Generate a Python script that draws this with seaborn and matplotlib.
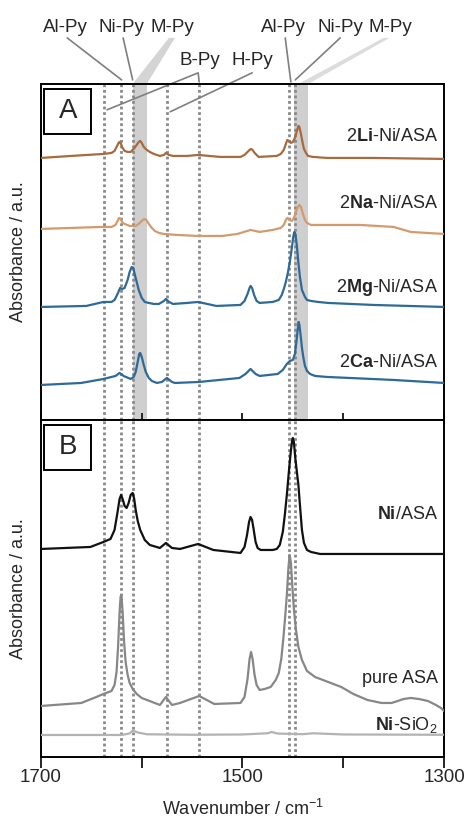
import pandas as pd
import matplotlib
matplotlib.use('Agg')
import matplotlib.pyplot as plt
import matplotlib.transforms as mtransforms
from matplotlib.patches import Rectangle
import seaborn as sns

sns.set_style('white')
plt.rcParams['font.family'] = ['Liberation Sans', 'DejaVu Sans']
plt.rcParams['mathtext.fontset'] = 'custom'
plt.rcParams['mathtext.rm'] = 'Liberation Sans'
plt.rcParams['mathtext.bf'] = 'Liberation Sans:bold'
plt.rcParams['mathtext.it'] = 'Liberation Sans:italic'
plt.rcParams['mathtext.default'] = 'regular'

# spectra (stacked, offsets included)
li_wn = [1700, 1670, 1638, 1630, 1627, 1625, 1623, 1622, 1621, 1619, 1617, 1614, 1611, 1608, 1605, 1603,
         1601.5, 1600, 1598, 1595, 1592, 1588, 1582, 1578, 1576, 1573, 1569, 1555, 1544, 1522, 1502, 1498,
         1495, 1493, 1491.5, 1490, 1488, 1486, 1484, 1466, 1462, 1459, 1457, 1455.5, 1454, 1452, 1450, 1448,
         1446, 1444.5, 1443.5, 1442, 1440.5, 1439, 1437, 1435, 1430, 1416, 1370, 1300]
li_abs = [2.62, 2.64, 2.66, 2.67, 2.69, 2.73, 2.77, 2.78, 2.77, 2.72, 2.69, 2.68, 2.68, 2.71, 2.75, 2.78,
          2.79, 2.77, 2.73, 2.70, 2.68, 2.66, 2.64, 2.65, 2.67, 2.65, 2.64, 2.64, 2.65, 2.63, 2.63, 2.65,
          2.68, 2.70, 2.71, 2.70, 2.67, 2.65, 2.63, 2.64, 2.66, 2.70, 2.76, 2.80, 2.79, 2.77, 2.78, 2.82,
          2.89, 2.94, 2.93, 2.86, 2.78, 2.71, 2.67, 2.64, 2.63, 2.62, 2.62, 2.61]

na_wn = [1700, 1640, 1630, 1626, 1624, 1622.5, 1621, 1619, 1617, 1612, 1606, 1603, 1600, 1597.5, 1595.5, 1593,
         1590, 1587, 1583, 1578, 1565, 1545, 1520, 1505, 1492, 1483, 1470, 1462, 1459, 1457, 1455.5, 1453.5,
         1451, 1449, 1447, 1445, 1443.5, 1442, 1440, 1438, 1436, 1432, 1420, 1383, 1350, 1333, 1317, 1300]
na_abs = [1.91, 1.93, 1.93, 1.95, 1.99, 2.02, 2.01, 1.97, 1.96, 1.94, 1.94, 1.96, 1.99, 2.01, 2.00, 1.96,
          1.92, 1.89, 1.87, 1.86, 1.85, 1.84, 1.84, 1.86, 1.90, 1.88, 1.90, 1.92, 1.95, 2.00, 2.02, 2.00,
          1.99, 2.02, 2.08, 2.13, 2.15, 2.13, 2.06, 2.00, 1.97, 1.95, 1.95, 1.95, 1.93, 1.88, 1.87, 1.86]

mg_wn = [1700, 1655, 1638, 1630, 1627, 1624, 1621.5, 1619.5, 1617, 1614, 1612, 1610, 1608.5, 1606.5, 1605,
         1603, 1600, 1597, 1593, 1588, 1583, 1578, 1576, 1573, 1569, 1555, 1544, 1526, 1502, 1498, 1495,
         1493, 1492, 1490.5, 1488.5, 1486, 1483, 1470, 1464, 1461, 1459, 1457, 1455, 1453, 1451, 1449.5,
         1448.5, 1447.5, 1446, 1444.5, 1443, 1441, 1438, 1436, 1432, 1425, 1415, 1370, 1300]
mg_abs = [1.13, 1.14, 1.18, 1.18, 1.20, 1.26, 1.32, 1.31, 1.32, 1.40, 1.48, 1.53, 1.52, 1.44, 1.38,
          1.30, 1.22, 1.18, 1.17, 1.16, 1.16, 1.19, 1.21, 1.18, 1.16, 1.17, 1.18, 1.14, 1.15, 1.19, 1.26,
          1.32, 1.34, 1.32, 1.25, 1.19, 1.17, 1.18, 1.20, 1.25, 1.31, 1.38, 1.47, 1.58, 1.72, 1.84,
          1.88, 1.86, 1.74, 1.57, 1.43, 1.30, 1.23, 1.20, 1.19, 1.18, 1.17, 1.15, 1.13]

ca_wn = [1700, 1660, 1638, 1626, 1622, 1618, 1611, 1608, 1606, 1604, 1602.5, 1601.5, 1600, 1598, 1596, 1593,
         1590, 1585, 1580, 1575, 1570, 1567, 1543, 1503, 1497, 1492, 1487, 1483, 1465, 1460, 1456, 1453, 1450,
         1448, 1446.5, 1445, 1444.3, 1443.5, 1442, 1441, 1439.5, 1438, 1436, 1433, 1428, 1416, 1350, 1300]
ca_abs = [0.35, 0.37, 0.41, 0.44, 0.47, 0.44, 0.41, 0.43, 0.48, 0.58, 0.66, 0.67, 0.63, 0.55, 0.48, 0.42,
          0.39, 0.37, 0.38, 0.42, 0.38, 0.37, 0.38, 0.42, 0.46, 0.51, 0.46, 0.44, 0.46, 0.50, 0.56, 0.59, 0.60,
          0.66, 0.78, 0.92, 0.98, 0.95, 0.82, 0.72, 0.62, 0.54, 0.49, 0.46, 0.44, 0.43, 0.40, 0.37]

ni_wn = [1700, 1651, 1638, 1631, 1627, 1624, 1622, 1620.5, 1619, 1617, 1615, 1613, 1611, 1609, 1607.5, 1606,
         1604, 1601.5, 1597, 1592, 1582, 1576, 1570, 1562, 1544, 1529, 1502, 1498, 1495.5, 1493.5, 1492,
         1490.5, 1489, 1487, 1485, 1482, 1470, 1466, 1463, 1460, 1458, 1456, 1454, 1452, 1450.5, 1450, 1449,
         1447.5, 1446, 1444.5, 1443, 1441, 1439, 1436, 1432, 1423, 1370, 1300]
ni_abs = [2.08, 2.10, 2.15, 2.18, 2.27, 2.45, 2.58, 2.62, 2.58, 2.51, 2.49, 2.54, 2.62, 2.64, 2.58, 2.47,
          2.36, 2.27, 2.17, 2.12, 2.09, 2.14, 2.09, 2.08, 2.13, 2.07, 2.04, 2.10, 2.22, 2.35, 2.40,
          2.37, 2.28, 2.15, 2.09, 2.07, 2.07, 2.08, 2.12, 2.25, 2.42, 2.62, 2.85, 3.06, 3.18, 3.19, 3.15,
          2.98, 2.85, 2.72, 2.52, 2.27, 2.14, 2.07, 2.05, 2.03, 2.03, 2.03]

asa_wn = [1700, 1660, 1645, 1638, 1630, 1627, 1625, 1623.5, 1622, 1621, 1620.5, 1620, 1619, 1617.5, 1616, 1614,
          1612, 1609, 1605, 1600, 1582, 1576, 1570, 1562, 1543, 1528, 1502, 1498, 1495, 1493, 1491.5, 1490,
          1488, 1486, 1483, 1478, 1472, 1467, 1464, 1461.5, 1459.5, 1457.5, 1456, 1454.5, 1453.3, 1452,
          1450.5, 1449, 1447, 1444.5, 1441, 1436, 1428, 1415, 1402, 1390, 1376, 1362, 1352, 1340, 1333, 1325,
          1316, 1308, 1303, 1300]
asa_abs = [0.51, 0.54, 0.60, 0.63, 0.66, 0.72, 0.85, 1.10, 1.45, 1.60, 1.62, 1.60, 1.45, 1.15, 0.95, 0.82,
           0.74, 0.68, 0.63, 0.59, 0.52, 0.60, 0.52, 0.54, 0.61, 0.53, 0.54, 0.60, 0.78, 0.98, 1.05, 0.98,
           0.82, 0.72, 0.67, 0.68, 0.70, 0.77, 0.84, 0.98, 1.18, 1.42, 1.62, 1.88, 2.02, 1.95,
           1.70, 1.48, 1.28, 1.10, 0.97, 0.86, 0.80, 0.75, 0.70, 0.63, 0.57, 0.54, 0.54, 0.58, 0.59, 0.58,
           0.56, 0.52, 0.49, 0.46]

sio2_wn = [1700, 1620, 1612, 1609, 1604, 1595, 1550, 1500, 1475, 1471, 1465, 1440, 1430, 1400, 1300]
sio2_abs = [0.22, 0.22, 0.235, 0.265, 0.245, 0.227, 0.222, 0.225, 0.237, 0.25, 0.234, 0.228, 0.237, 0.225, 0.222]

samples = ['2Li', '2Na', '2Mg', '2Ca', 'Ni', 'ASA', 'SiO2']
panels = ['A', 'A', 'A', 'A', 'B', 'B', 'B']
labels = [r'2$\mathbf{Li}$-Ni/ASA', r'2$\mathbf{Na}$-Ni/ASA', r'2$\mathbf{Mg}$-Ni/ASA', r'2$\mathbf{Ca}$-Ni/ASA',
          r'$\mathbf{Ni}$/ASA', 'pure ASA', r'$\mathbf{Ni}$-SiO$_2$']
label_y = [0.830, 0.630, 0.382, 0.159, 0.705, 0.219, 0.080]
colors = {'2Li': '#a86a3e', '2Na': '#d39b6c', '2Mg': '#2e6a98', '2Ca': '#2e6a98',
          'Ni': '#111111', 'ASA': '#878787', 'SiO2': '#b3b3b3'}

# band positions
dotted_wn = [1637, 1620.5, 1609, 1574.5, 1543, 1454, 1448]
bands = [(1609, 1595), (1448.5, 1434.5)]

curves = [(li_wn, li_abs), (na_wn, na_abs), (mg_wn, mg_abs), (ca_wn, ca_abs),
          (ni_wn, ni_abs), (asa_wn, asa_abs), (sio2_wn, sio2_abs)]
rows = []
for s, p, (wn, ab) in zip(samples, panels, curves):
    for w, a in zip(wn, ab):
        rows.append([w, a, s, p])
df = pd.DataFrame(rows, columns=['wavenumber', 'absorbance', 'sample', 'panel'])

fig = plt.figure(figsize=(4.69, 8.18), dpi=100)
ax_a = fig.add_axes([0.0874, 0.4866, 0.8593, 0.4108])
ax_b = fig.add_axes([0.0874, 0.0746, 0.8593, 0.412])

for ax, panel in [(ax_a, 'A'), (ax_b, 'B')]:
    if panel == 'A':
        for lo, hi in bands:
            ax.axvspan(lo, hi, color='#cfcfcf', lw=0, zorder=0)
    for w in dotted_wn:
        ax.axvline(w, color='#8a8a8a', ls=(0, (1, 1)), lw=2, zorder=1)
    sub = df[df['panel'] == panel]
    sns.lineplot(data=sub, x='wavenumber', y='absorbance', hue='sample', palette=colors,
                 estimator=None, sort=False, legend=False, lw=1.6, ax=ax, zorder=3)
    ax.set_xlim(1700, 1300)
    ax.set_yticks([])
    ax.set_xticks([1700, 1600, 1500, 1400, 1300])
    for sp in ax.spines.values():
        sp.set_linewidth(1.4)
        sp.set_color('black')
    ax.set_ylabel('Absorbance / a.u.', fontsize=13)
    ax.yaxis.set_label_coords(-0.035, 0.5)
    ax.add_patch(Rectangle((0.008, 0.852), 0.117, 0.133, transform=ax.transAxes,
                           fill=False, lw=1.4, ec='black', zorder=5))
    ax.text(0.0665, 0.9185, panel, transform=ax.transAxes, ha='center', va='center', fontsize=20, zorder=6)

ax_a.set_ylim(0, 3.36)
ax_b.set_ylim(0, 3.37)

for lab, s, p, y in zip(labels, samples, panels, label_y):
    ax = ax_a if p == 'A' else ax_b
    ax.text(0.985, y, lab, transform=ax.transAxes, ha='right', va='baseline', fontsize=13, zorder=6)

ax_a.set_xlabel('')
ax_a.set_xticklabels([])
ax_a.tick_params(axis='x', bottom=True, direction='inout', length=10, width=1.4)
ax_b.set_xticklabels(['1700', '', '1500', '', '1300'], fontsize=13.5)
ax_b.tick_params(axis='x', bottom=True, direction='out', length=8, width=1.4, pad=1)
ax_b.set_xlabel('Wavenumber / cm$^{-1}$', fontsize=13)
ax_b.xaxis.set_label_coords(0.5, -0.125)

# peak assignment labels above panel A
trans = mtransforms.blended_transform_factory(ax_a.transData, ax_a.transAxes)
line_kw = dict(color='#7f7f7f', lw=1.2, transform=trans, clip_on=False)
ax_a.plot([1674, 1620], [1.137, 1.012], **line_kw)
ax_a.plot([1618.5, 1609], [1.137, 1.012], **line_kw)
ax_a.plot([1634.4, 1544, 1543], [0.923, 1.033, 1.006], **line_kw)
ax_a.plot([1571.8, 1490.4], [0.917, 1.033], **line_kw)
ax_a.plot([1457.6, 1452], [1.137, 1.006], **line_kw)
ax_a.plot([1403, 1447.6], [1.137, 1.012], **line_kw)
ax_a.fill([1573, 1567, 1595, 1609], [1.137, 1.137, 1.0, 1.0], color='#d4d4d4', lw=0,
          transform=trans, clip_on=False)
ax_a.fill([1360, 1354, 1434.7, 1444.6], [1.137, 1.137, 1.0, 1.0], color='#dcdcdc', lw=0,
          transform=trans, clip_on=False)

top_labels = ['Al-Py', 'Ni-Py', 'M-Py', 'Al-Py', 'Ni-Py', 'M-Py']
top_x = [1676, 1620.5, 1570, 1459.6, 1403, 1353.3]
for t, x in zip(top_labels, top_x):
    ax_a.text(x, 1.155, t, transform=trans, ha='center', va='baseline', fontsize=13.5)
for t, x in zip(['B-Py', 'H-Py'], [1542, 1490.4]):
    ax_a.text(x, 1.0565, t, transform=trans, ha='center', va='baseline', fontsize=13.5)

fig.savefig('out.png', dpi=100)
